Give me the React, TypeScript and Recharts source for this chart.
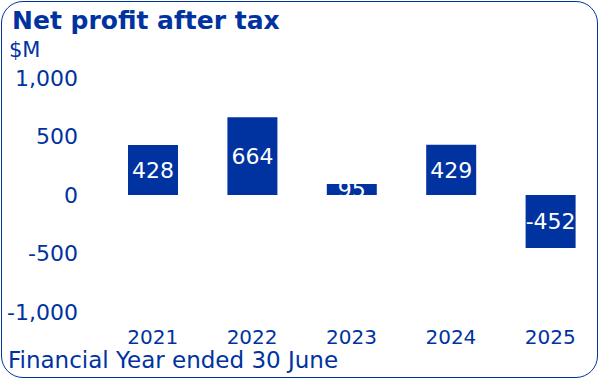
import { Bar, BarChart, LabelList, XAxis, YAxis } from 'recharts';

const years = ['2021', '2022', '2023', '2024', '2025'];
const profit = [428, 664, 95, 429, -452];
const yTicks = [-1000, -500, 0, 500, 1000];

const data = years.map((year, i) => ({ year, profit: profit[i] }));

const BLUE = '#0033a0';
const FONT = '"DejaVu Sans", sans-serif';

export default function App() {
  return (
    <div style={{ position: 'absolute', left: 0, top: 0, width: 600, height: 380, fontFamily: FONT, background: '#fff' }}>
      <div
        style={{
          position: 'absolute', left: 1, top: 1, width: 597, height: 377,
          border: `1.5px solid ${BLUE}`, borderRadius: 22, boxSizing: 'border-box'
        }}
      />
      <div style={{ position: 'absolute', left: 12, top: 3, fontSize: 25, fontWeight: 700, color: BLUE, lineHeight: '36px' }}>
        Net profit after tax
      </div>
      <div style={{ position: 'absolute', left: 9, top: 36, fontSize: 21, color: BLUE, lineHeight: '28px' }}>$M</div>
      <div style={{ position: 'absolute', left: 8, top: 346, fontSize: 23, color: BLUE, lineHeight: '28px' }}>
        Financial Year ended 30 June
      </div>
      <div style={{ position: 'absolute', left: 0, top: 0 }}>
        <BarChart width={600} height={380} data={data} margin={{ top: 78, right: 0, bottom: 38, left: 0 }} barSize={50}>
          <XAxis
            dataKey="year"
            height={30}
            axisLine={false}
            tickLine={false}
            tickSize={0}
            tickMargin={18}
            interval={0}
            tick={{ fill: BLUE, fontSize: 20, fontFamily: FONT }}
          />
          <YAxis
            width={103}
            domain={[-1000, 1000]}
            ticks={yTicks}
            axisLine={false}
            tickLine={false}
            tickSize={0}
            tickMargin={25}
            tickFormatter={(v: number) => v.toLocaleString('en-US')}
            tick={{ fill: BLUE, fontSize: 22, fontFamily: FONT }}
          />
          <Bar dataKey="profit" fill={BLUE} isAnimationActive={false}>
            <LabelList dataKey="profit" position="center" fill="#fff" fontSize={22} fontFamily={FONT} />
          </Bar>
        </BarChart>
      </div>
    </div>
  );
}
